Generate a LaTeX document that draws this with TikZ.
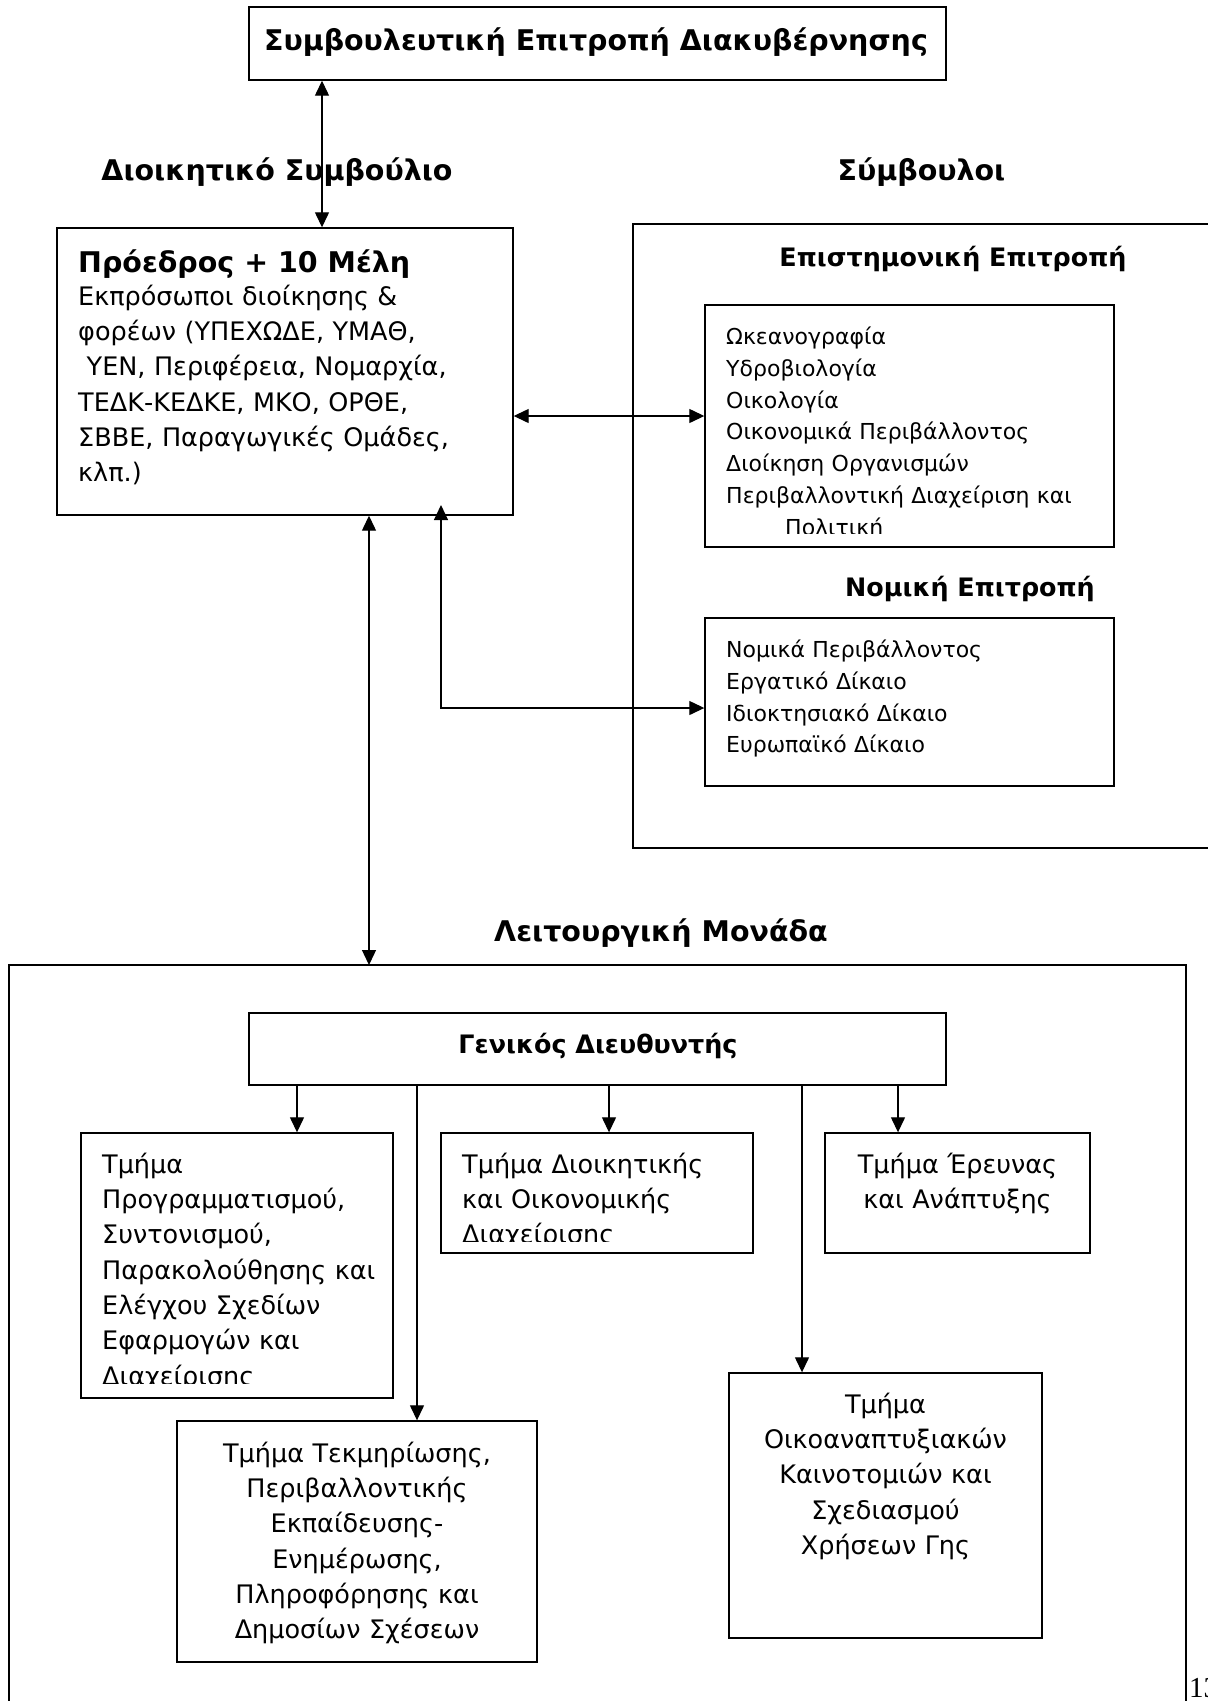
\documentclass[tikz,border=0pt]{standalone}
\usepackage{fontspec}
\setmainfont{DejaVu Sans}
\newfontfamily\pgnumfont{Liberation Serif}
\usetikzlibrary{arrows.meta}
\newcommand\fTitle{\fontsize{28.5}{34}\selectfont\bfseries}
\newcommand\fSub{\fontsize{25.4}{31}\selectfont\bfseries}
\newcommand\fBody{\fontsize{25.5}{35.3}\selectfont}
\newcommand\fSmall{\fontsize{22}{31.9}\selectfont}
\tikzset{
  box/.style={draw, line width=1.4pt, rectangle, inner sep=0pt},
  frame/.style={line width=1.4pt},
  con/.style={line width=1.3pt, -{Triangle[length=15pt,width=14pt]}},
  dcon/.style={line width=1.3pt, {Triangle[length=15pt,width=14pt]}-{Triangle[length=15pt,width=14pt]}},
  ttl/.style={font=\fTitle, inner sep=0pt, anchor=base},
  sub/.style={font=\fSub, inner sep=0pt, anchor=base},
  bodyl/.style={font=\fBody, inner sep=0pt, anchor=north west, align=left, text width=470pt},
  bodyc/.style={font=\fBody, inner sep=0pt, anchor=north, align=center, text width=360pt},
  smalll/.style={font=\fSmall, inner sep=0pt, anchor=north west, align=left, text width=400pt}
}
\begin{document}
\begin{tikzpicture}[x=1pt,y=-1pt]
\useasboundingbox (0,0) rectangle (1208,1701);
\fill[white] (0,0) rectangle (1208,1701);

% ---------- top ----------
\node[box, minimum width=697pt, minimum height=73pt] (top) at (597.5,43.5) {};
\node[ttl] (ttop) at (596,50) {Συμβουλευτική Επιτροπή Διακυβέρνησης};

\node[ttl] (tdioik) at (277,180) {Διοικητικό Συμβούλιο};
\node[ttl] (tsymb) at (921.5,180) {Σύμβουλοι};

% ---------- board ----------
\node[box, minimum width=456pt, minimum height=287pt] (pres) at (285,371.5) {};
\node[ttl, anchor=base west] (tpres) at (78,272) {Πρόεδρος + 10 Μέλη};
\node[bodyl] (presbody) at (78,280.3) {\strut Εκπρόσωποι διοίκησης \&\\
φορέων (ΥΠΕΧΩΔΕ, ΥΜΑΘ,\\
\hspace*{8.5pt}ΥΕΝ, Περιφέρεια, Νομαρχία,\\
ΤΕΔΚ-ΚΕΔΚΕ, ΜΚΟ, ΟΡΘΕ,\\
ΣΒΒΕ, Παραγωγικές Ομάδες,\\
κλπ.)};

% ---------- advisors ----------
\draw[frame] (1220,224) -- (633,224) -- (633,848) -- (1220,848);
\node[sub] (tepist) at (953,266) {Επιστημονική Επιτροπή};
\node[box, minimum width=409pt, minimum height=242pt] (sci) at (909.5,426) {};
\begin{scope}
\clip (705,305) rectangle (1114,533);
\node[smalll] (scibody) at (726,321.7) {\strut Ωκεανογραφία\\
Υδροβιολογία\\
Οικολογία\\
Οικονομικά Περιβάλλοντος\\
Διοίκηση Οργανισμών\\
Περιβαλλοντική Διαχείριση και\\
\hspace*{59pt}Πολιτική};
\end{scope}

\node[sub] (tnom) at (970,596) {Νομική Επιτροπή};
\node[box, minimum width=409pt, minimum height=168pt] (law) at (909.5,702) {};
\node[smalll] (lawbody) at (726,634.7) {\strut Νομικά Περιβάλλοντος\\
Εργατικό Δίκαιο\\
Ιδιοκτησιακό Δίκαιο\\
Ευρωπαϊκό Δίκαιο};

% ---------- functional unit ----------
\node[ttl] (tleit) at (661,941) {Λειτουργική Μονάδα};
\draw[frame] (9,1720) -- (9,965) -- (1186,965) -- (1186,1720);
\coordinate (lmtop) at (369,965);

\node[box, minimum width=697pt, minimum height=72pt] (gd) at (597.5,1049) {};
\node[sub] (tgd) at (598,1053) {Γενικός Διευθυντής};

\node[box, minimum width=312pt, minimum height=265pt] (b1) at (237,1265.5) {};
\begin{scope}
\clip (81,1133) rectangle (393,1383);
\node[bodyl] (b1body) at (102,1148.3) {\strut Τμήμα\\
Προγραμματισμού,\\
Συντονισμού,\\
Παρακολούθησης και\\
Ελέγχου Σχεδίων\\
Εφαρμογών και\\
Διαχείρισης};
\end{scope}

\node[box, minimum width=312pt, minimum height=120pt] (b2) at (597,1193) {};
\begin{scope}
\clip (441,1133) rectangle (753,1241);
\node[bodyl] (b2body) at (462,1148.3) {\strut Τμήμα Διοικητικής\\
και Οικονομικής\\
Διαχείρισης};
\end{scope}

\node[box, minimum width=265pt, minimum height=120pt] (b3) at (957.5,1193) {};
\node[bodyc] (b3body) at (957.5,1148.3) {\strut Τμήμα Έρευνας\\
και Ανάπτυξης};

\node[box, minimum width=360pt, minimum height=241pt] (b4) at (357,1541.5) {};
\node[bodyc] (b4body) at (357,1437.3) {\strut Τμήμα Τεκμηρίωσης,\\
Περιβαλλοντικής\\
Εκπαίδευσης-\\
Ενημέρωσης,\\
Πληροφόρησης και\\
Δημοσίων Σχέσεων};

\node[box, minimum width=313pt, minimum height=265pt] (b5) at (885.5,1505.5) {};
\node[bodyc] (b5body) at (885.5,1388.3) {\strut Τμήμα\\
Οικοαναπτυξιακών\\
Καινοτομιών και\\
Σχεδιασμού\\
Χρήσεων Γης};

\node[font=\pgnumfont\fontsize{29}{34}\selectfont, inner sep=0pt, anchor=base west] (pgnum) at (1189,1697) {13};

% ---------- connectors ----------
\coordinate (lawend) at (441,505);
\draw[dcon] (top.south -| 322,0) -- (pres.north -| 322,0);
\draw[dcon] (pres.east |- 0,416) -- (sci.west |- 0,416);
\draw[dcon] (law.west |- 0,708) -| (lawend);
\draw[dcon] (pres.south -| 369,0) -- (lmtop);

\draw[con] (gd.south -| 297,0) -- (b1.north -| 297,0);
\draw[con] (gd.south -| 417,0) -- (b4.north -| 417,0);
\draw[con] (gd.south -| 609,0) -- (b2.north -| 609,0);
\draw[con] (gd.south -| 802,0) -- (b5.north -| 802,0);
\draw[con] (gd.south -| 898,0) -- (b3.north -| 898,0);
\end{tikzpicture}
\end{document}
